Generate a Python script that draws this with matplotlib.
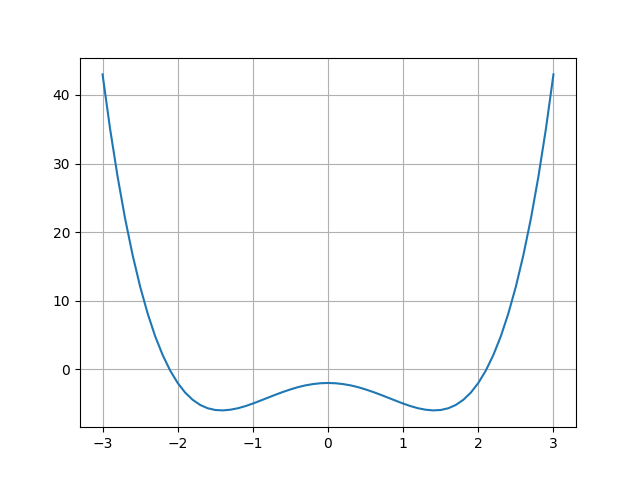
import matplotlib
matplotlib.use('Agg')
import matplotlib.pyplot as plt

# curve values, step 0.1 from -3 to 3
xs = [round(-3 + i * 0.1, 1) for i in range(61)]
right = [-2.0, -2.04, -2.16, -2.35, -2.61, -2.94, -3.31, -3.72, -4.15, -4.58,
         -5.0, -5.38, -5.69, -5.9, -6.0, -5.94, -5.69, -5.21, -4.46, -3.41,
         -2.0, -0.19, 2.07, 4.82, 8.14, 12.06, 16.66, 21.98, 28.11, 35.09, 43.0]
left = [43.0, 35.09, 28.11, 21.98, 16.66, 12.06, 8.14, 4.82, 2.07, -0.19,
        -2.0, -3.41, -4.46, -5.21, -5.69, -5.94, -6.0, -5.9, -5.69, -5.38,
        -5.0, -4.58, -4.15, -3.72, -3.31, -2.94, -2.61, -2.35, -2.16, -2.04]
ys = left + right

fig, ax = plt.subplots(figsize=(6.4, 4.8), dpi=100)
ax.plot(xs, ys)
ax.grid(True)
fig.savefig('out.png')
